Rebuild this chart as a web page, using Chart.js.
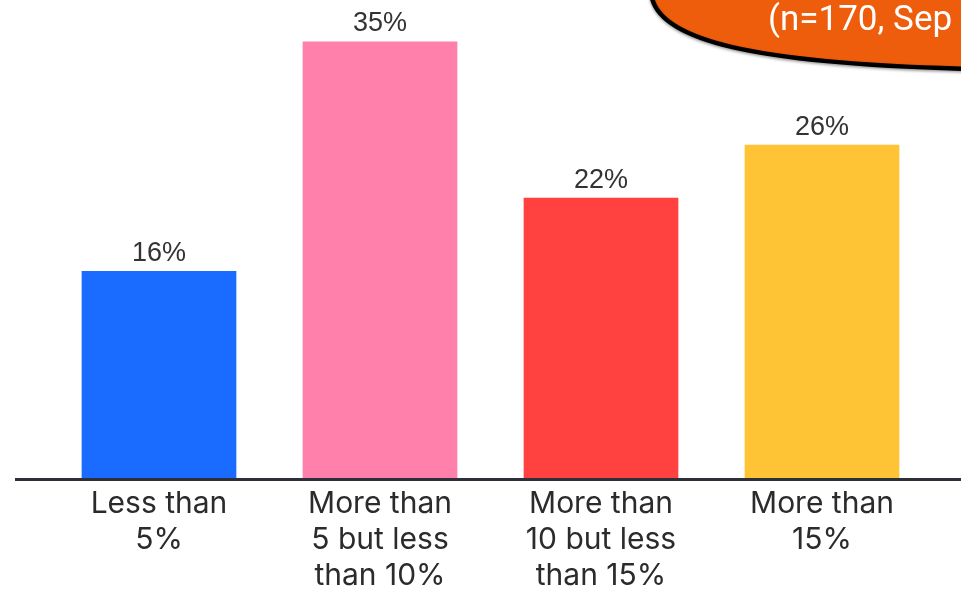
<!DOCTYPE html>
<html>
<head>
<meta charset="utf-8">
<script src="https://cdn.jsdelivr.net/npm/chart.js@4/dist/chart.umd.min.js"></script>
<style>
  html, body { margin: 0; padding: 0; background: #ffffff; }
  #wrap { position: relative; width: 961px; height: 595px; }
</style>
</head>
<body>
<div id="wrap"><canvas id="c" width="961" height="595"></canvas></div>
<script>
const categories = [
  ["Less than", "5%"],
  ["More than", "5 but less", "than 10%"],
  ["More than", "10 but less", "than 15%"],
  ["More than", "15%"]
];
// bar heights (labels shown rounded)
const values = [16.4, 34.6, 22.2, 26.4];
const barColors = ["#1A6BFF", "#FF80AB", "#FF423F", "#FFC436"];
const noteText = "(n=170, Sep";

const valueLabels = {
  id: 'valueLabels',
  afterDatasetsDraw(chart) {
    const ctx = chart.ctx;
    const meta = chart.getDatasetMeta(0);
    ctx.save();
    ctx.font = '27px "Liberation Sans", Arial, sans-serif';
    ctx.fillStyle = '#333333';
    ctx.textAlign = 'center';
    ctx.textBaseline = 'alphabetic';
    meta.data.forEach((bar, i) => {
      ctx.fillText(Math.round(values[i]) + '%', bar.x, bar.y - 10);
    });
    ctx.restore();
  }
};

const axisLine = {
  id: 'axisLine',
  afterDatasetsDraw(chart) {
    const ctx = chart.ctx;
    const y = chart.scales.y.getPixelForValue(0);
    ctx.save();
    ctx.strokeStyle = '#2E3039';
    ctx.lineWidth = 3;
    ctx.beginPath();
    ctx.moveTo(15, y + 1.5);
    ctx.lineTo(chart.width, y + 1.5);
    ctx.stroke();
    ctx.restore();
  }
};

const noteBlob = {
  id: 'noteBlob',
  afterDraw(chart) {
    const ctx = chart.ctx;
    ctx.save();
    ctx.beginPath();
    ctx.moveTo(651, -10);
    ctx.bezierCurveTo(651, 42, 760, 64, 975, 69);
    ctx.lineTo(975, -10);
    ctx.closePath();
    ctx.fillStyle = '#EE5D0C';
    ctx.fill();
    ctx.beginPath();
    ctx.moveTo(651, -10);
    ctx.bezierCurveTo(651, 42, 760, 64, 975, 69);
    ctx.strokeStyle = '#000000';
    ctx.lineWidth = 4.5;
    ctx.shadowColor = 'rgba(0,0,0,0.4)';
    ctx.shadowBlur = 3;
    ctx.shadowOffsetY = 1.5;
    ctx.stroke();
    ctx.shadowColor = 'transparent';
    ctx.font = '35px Roboto, sans-serif';
    ctx.fillStyle = '#ffffff';
    ctx.textAlign = 'left';
    ctx.textBaseline = 'alphabetic';
    ctx.fillText(noteText, 768, 30);
    ctx.restore();
  }
};

new Chart(document.getElementById('c'), {
  type: 'bar',
  data: {
    labels: categories,
    datasets: [{
      data: values,
      backgroundColor: barColors,
      borderWidth: 0,
      barPercentage: 0.70,
      categoryPercentage: 1.0
    }]
  },
  options: {
    responsive: false,
    animation: false,
    devicePixelRatio: 1,
    layout: { padding: { left: 48.5, right: 28.5, top: 0, bottom: 0 } },
    plugins: {
      legend: { display: false },
      tooltip: { enabled: false },
      title: { display: false }
    },
    scales: {
      x: {
        grid: { display: false, drawTicks: false },
        border: { display: false },
        afterFit(scale) { scale.height = 117; },
        ticks: {
          padding: 8,
          color: '#2B2B2B',
          maxRotation: 0,
          autoSkip: false,
          font: { family: 'Inter, "Noto Sans", sans-serif', size: 30, lineHeight: 36 / 30 }
        }
      },
      y: {
        display: false,
        min: 0,
        max: 37.88
      }
    }
  },
  plugins: [valueLabels, axisLine, noteBlob]
});
</script>
</body>
</html>
